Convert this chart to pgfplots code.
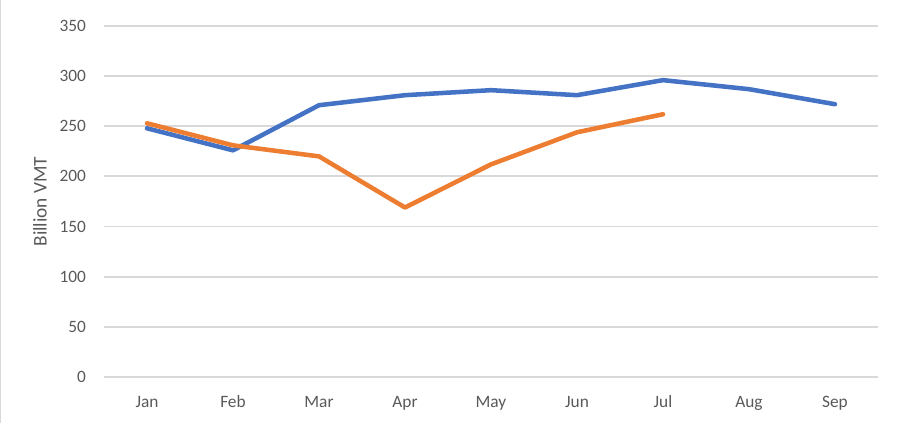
\documentclass[border=0pt]{standalone}
\usepackage{pgfplots}
\pgfplotsset{compat=1.18}
\usepackage{fontspec}
\setmainfont{Carlito}
\definecolor{cblue}{HTML}{4472C4}
\definecolor{corange}{HTML}{ED7D31}
\definecolor{cgrid}{HTML}{D9D9D9}
\definecolor{ctext}{HTML}{595959}
\begin{document}
\begin{tikzpicture}
\useasboundingbox (-78pt,-34.5pt) rectangle (596.25pt,282.75pt);
\draw[cgrid, line width=0.75pt] (-77.4pt,-34.5pt) -- (-77.4pt,282.75pt);
\begin{axis}[
  at={(0,0)}, anchor=south west,
  scale only axis,
  width=580.5pt, height=263.25pt,
  xmin=-0.5, xmax=8.5,
  ymin=0, ymax=350,
  xtick={0,...,8},
  xticklabels={Jan,Feb,Mar,Apr,May,Jun,Jul,Aug,Sep},
  ytick={0,50,...,350},
  major tick length=0pt,
  axis x line*=bottom,
  axis y line*=left,
  y axis line style={draw=none},
  x axis line style={cgrid, line width=1.4pt, -},
  ymajorgrids,
  grid style={cgrid, line width=1.4pt},
  ticklabel style={font=\fontsize{13}{15}\selectfont, text=ctext},
  /pgf/number format/assume math mode=true,
  yticklabel style={anchor=east, xshift=-10pt},
  xticklabel style={anchor=base, yshift=-23pt},
  ylabel={Billion VMT},
  ylabel style={at={(axis description cs:-0.0827,0.5)}, anchor=center, font=\fontsize{14.5}{16}\selectfont, text=ctext},
  clip=false,
]
\addplot[cblue, line width=3.4pt, line join=round, line cap=round] coordinates {
(0,248) (1,226) (2,271) (3,281) (4,286) (5,281) (6,296) (7,287) (8,272)};
\addplot[corange, line width=3.4pt, line join=round, line cap=round] coordinates {
(0,253) (1,231) (2,220) (3,169) (4,212) (5,244) (6,262)};
\end{axis}
\end{tikzpicture}
\end{document}
